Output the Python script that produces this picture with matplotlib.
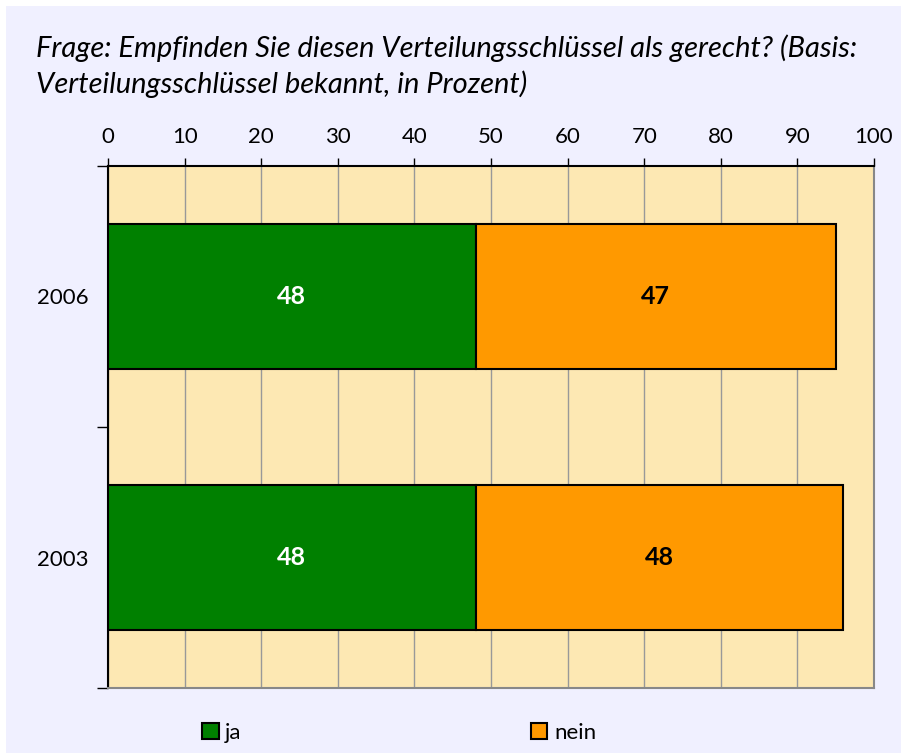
import matplotlib.pyplot as plt
from matplotlib.patches import Patch, Rectangle

years = ["2003", "2006"]
ja = [48, 48]
nein = [48, 47]
title = ("Frage: Empfinden Sie diesen Verteilungsschlüssel als gerecht? (Basis:\n"
         "Verteilungsschlüssel bekannt, in Prozent)")

GREEN = "#008000"
ORANGE = "#FF9900"
BG = "#F0F0FF"
PLOT_BG = "#FDE8B3"

plt.rcParams["font.family"] = ["Lato", "DejaVu Sans"]

fig = plt.figure(figsize=(9.01, 7.53), dpi=100, facecolor=BG)
# thin white strip along top and left edges
fig.patches.append(Rectangle((0, 1 - 6 / 753), 1, 6 / 753, transform=fig.transFigure,
                             facecolor="white", edgecolor="none", zorder=0))
fig.patches.append(Rectangle((0, 0), 6 / 901, 1, transform=fig.transFigure,
                             facecolor="white", edgecolor="none", zorder=0))

ax = fig.add_axes([108 / 901, 1 - 688 / 753, (874 - 108) / 901, (688 - 166) / 753])
ax.set_facecolor(PLOT_BG)

pos = list(range(len(years)))
h = 0.555
ax.barh(pos, ja, height=h, color=GREEN, edgecolor="black", linewidth=1.5, zorder=3, label="ja")
ax.barh(pos, nein, left=ja, height=h, color=ORANGE, edgecolor="black", linewidth=1.5,
        zorder=3, label="nein")

for y, a, b in zip(pos, ja, nein):
    ax.text(a / 2, y, str(a), ha="center", va="center", color="white",
            fontsize=18, fontweight="bold", zorder=4)
    ax.text(a + b / 2, y, str(b), ha="center", va="center", color="black",
            fontsize=18, fontweight="bold", zorder=4)

ax.set_xlim(0, 100)
ax.set_ylim(-0.5, len(years) - 0.5)
ax.set_xticks(range(0, 101, 10))
ax.xaxis.tick_top()
ax.tick_params(axis="x", length=6, width=1, labelsize=16, pad=8, color="black")
ax.set_yticks(pos)
ax.set_yticklabels(years)
ax.set_yticks([p - 0.5 for p in range(len(years) + 1)], minor=True)
ax.tick_params(axis="y", which="major", length=0, labelsize=16, pad=14)
ax.tick_params(axis="y", which="minor", length=8, width=1, color="black")
ax.grid(axis="x", color="#999999", linewidth=1, zorder=1)

for side in ("left", "top"):
    ax.spines[side].set_color("black")
    ax.spines[side].set_linewidth(1.5)
for side in ("right", "bottom"):
    ax.spines[side].set_color("#888888")
    ax.spines[side].set_linewidth(1.5)

fig.text(36 / 901, 1 - 34 / 753, title, ha="left", va="top", fontsize=21,
         style="italic", linespacing=1.38)

handles = [Patch(facecolor=GREEN, edgecolor="black", linewidth=1.5),
           Patch(facecolor=ORANGE, edgecolor="black", linewidth=1.5)]
fig.legend(handles, ["ja", "nein"], loc="center left", bbox_to_anchor=(193 / 901, 1 - 733 / 753),
           ncol=2, frameon=False, fontsize=16, handlelength=0.75, handleheight=0.75,
           handletextpad=0.3, columnspacing=13.0, borderaxespad=0)

fig.savefig("out.png", dpi=100, facecolor=BG)
